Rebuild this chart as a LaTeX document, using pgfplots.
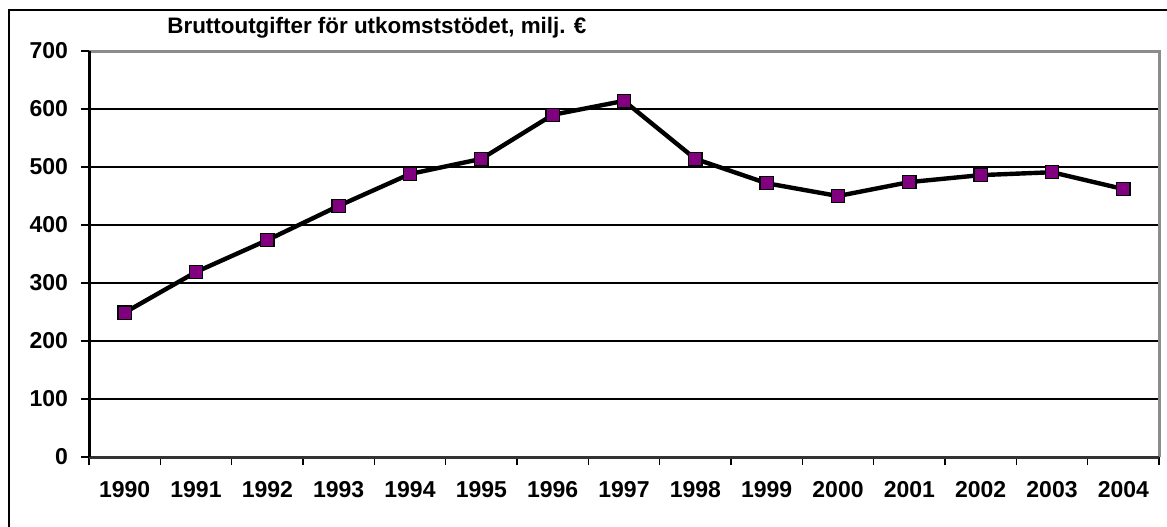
\documentclass[border=0pt]{standalone}
\usepackage{pgfplots}
\pgfplotsset{compat=1.18}
\usepackage{fontspec}
\setmainfont{Liberation Sans}
\definecolor{mk}{HTML}{800080}
\begin{document}
\begin{tikzpicture}
\useasboundingbox (0,0) rectangle (583.5pt,263pt);
\draw[black, line width=1.2pt] (4.5pt,-5pt) -- (4.5pt,258pt) -- (590pt,258pt);
\node[anchor=base west, inner sep=0pt, font=\bfseries\fontsize{11.2}{13}\selectfont] at (83.5pt,246pt) {Bruttoutgifter för utkomststödet, milj. €};
\begin{axis}[
  at={(44.5pt,34.5pt)}, anchor=south west,
  scale only axis, width=535pt, height=203pt,
  xmin=-0.5, xmax=14.5, ymin=0, ymax=700,
  ytick={0,100,...,700},
  xtick={0,...,14},
  xticklabels={1990,1991,1992,1993,1994,1995,1996,1997,1998,1999,2000,2001,2002,2003,2004},
  minor xtick={-0.5,0.5,...,14.5},
  xtick pos=bottom, ytick pos=left,
  major x tick style={draw=none},
  tick align=outside,
  major tick length=4pt, minor tick length=4pt,
  every tick/.style={black, line width=0.6pt},
  axis line style={draw=none},
  ymajorgrids, grid style={black, line width=0.75pt},
  ticklabel style={font=\bfseries\fontsize{11.5}{13}\selectfont},
  /pgf/number format/assume math mode=true,
  yticklabel style={xshift=-3pt},
  xticklabel style={yshift=-4.5pt},
  clip=false,
]
\addplot[black, line width=2.2pt, mark=square*, mark size=3.3pt,
  mark options={fill=mk, draw=black, line width=0.6pt, solid}]
  coordinates {(0,249) (1,319) (2,374) (3,433) (4,488) (5,514) (6,590) (7,614) (8,514) (9,472) (10,450) (11,474) (12,486) (13,491) (14,462)};
\draw[gray!90, line width=1.5pt] (rel axis cs:0,1) -- (rel axis cs:1,1) -- (rel axis cs:1,0);
\draw[black!80, line width=1.5pt] (rel axis cs:1,0) -- (rel axis cs:0,0);
\draw[black, line width=1.5pt] (rel axis cs:0,0) -- (rel axis cs:0,1);
\end{axis}
\end{tikzpicture}
\end{document}
